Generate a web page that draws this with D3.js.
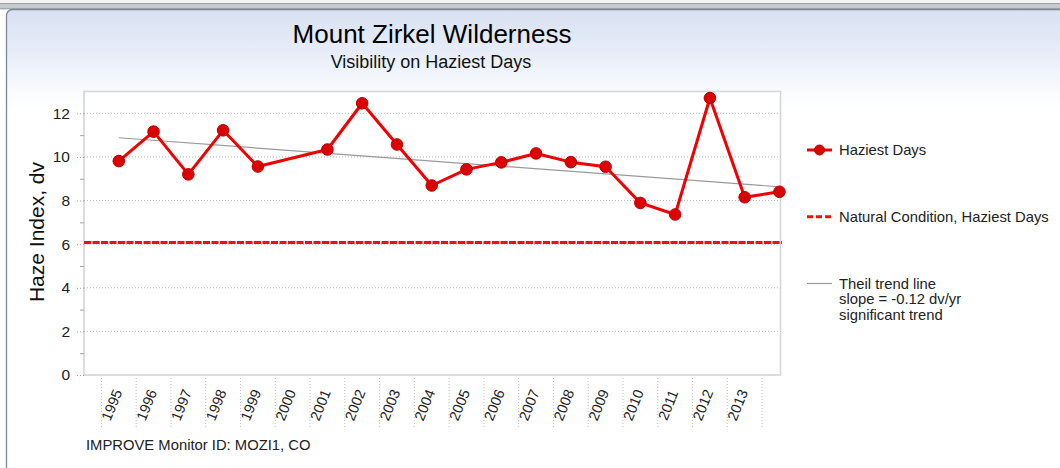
<!DOCTYPE html>
<html>
<head>
<meta charset="utf-8">
<script src="https://cdn.jsdelivr.net/npm/d3@7"></script>
<style>
html,body{margin:0;padding:0;background:#fff;}
svg{display:block;font-family:"Liberation Sans",Arial,sans-serif;}
</style>
</head>
<body>
<svg id="chart" width="1060" height="468"></svg>
<script>
// ---- data ----
const years = [1995,1996,1997,1998,1999,2000,2001,2002,2003,2004,2005,2006,2007,2008,2009,2010,2011,2012,2013,2014];
const haziestDays = [9.81,11.16,9.20,11.22,9.56,null,10.34,12.46,10.57,8.69,9.43,9.75,10.16,9.76,9.55,7.89,7.36,12.70,8.15,8.40];
const naturalCondition = [6.08,6.08];
const naturalYears = [1994,2014.07];
const trendYears = [1995,2014];
const trendValues = [10.88,8.63];
const xTickLabels = ["1995","1996","1997","1998","1999","2000","2001","2002","2003","2004","2005","2006","2007","2008","2009","2010","2011","2012","2013"];
const yMajorTicks = [0,2,4,6,8,10,12];
const yMinorTicks = [1,3,5,7,9,11];
const title = "Mount Zirkel Wilderness";
const subtitle = "Visibility on Haziest Days";
const yTitle = "Haze Index, dv";
const footer = "IMPROVE Monitor ID: MOZI1, CO";
const legendLabels = ["Haziest Days","Natural Condition, Haziest Days",["Theil trend line","slope = -0.12 dv/yr","significant trend"]];

(function(){
const svg = d3.select("#chart");
const defs = svg.append("defs");
const grad = defs.append("linearGradient").attr("id","bg").attr("x1",0).attr("y1",0).attr("x2",0).attr("y2",1);
grad.append("stop").attr("offset","0%").attr("stop-color","#d8e1f2");
grad.append("stop").attr("offset","10%").attr("stop-color","#eaeff9");
grad.append("stop").attr("offset","17%").attr("stop-color","#fbfcfe");
grad.append("stop").attr("offset","21%").attr("stop-color","#ffffff");
grad.append("stop").attr("offset","100%").attr("stop-color","#ffffff");

// window frame
svg.append("rect").attr("x",0).attr("y",0).attr("width",1060).attr("height",468).attr("fill","#ffffff");
svg.append("rect").attr("x",-20).attr("y",-10).attr("width",1100).attr("height",13.5).attr("rx",5)
  .attr("fill","#f4f4f4").attr("stroke","#6d7b80").attr("stroke-width",1.2);
svg.append("rect").attr("x",-20).attr("y",3.5).attr("width",1100).attr("height",5).attr("fill","#c9c9c9");
svg.append("line").attr("x1",0).attr("x2",1060).attr("y1",8.8).attr("y2",8.8).attr("stroke","#8593a3").attr("stroke-width",1);
svg.append("rect").attr("x",6.5).attr("y",9.5).attr("width",1100).attr("height",500).attr("rx",6)
  .attr("fill","url(#bg)").attr("stroke","#7b8794").attr("stroke-width",1.3);

// plot geometry
const pLeft = 84, pRight = 780.5, pTop = 91.5, pBottom = 375;
const x = d3.scaleLinear().domain([1994, 2014.03]).range([pLeft, pRight]);
const y = d3.scaleLinear().domain([0, 13]).range([pBottom, pTop]);

svg.append("rect").attr("x",pLeft).attr("y",pTop).attr("width",pRight-pLeft).attr("height",pBottom-pTop)
  .attr("fill","#ffffff").attr("stroke","#d3d6da").attr("stroke-width",1.6);

// gridlines
svg.append("g").selectAll("line").data(yMajorTicks.filter(d=>d>0)).join("line")
  .attr("x1",pLeft).attr("x2",pRight).attr("y1",d=>y(d)).attr("y2",d=>y(d))
  .attr("stroke","#b8b8b8").attr("stroke-width",1).attr("stroke-dasharray","1,2");

// y axis
const yAxis = d3.axisLeft(y).tickValues(yMajorTicks).tickSize(9).tickPadding(5).tickFormat(d3.format("d"));
const gy = svg.append("g").attr("transform",`translate(${pLeft},0)`).call(yAxis);
gy.select(".domain").remove();
gy.selectAll(".tick line").attr("stroke","#a0a0a0").attr("stroke-dasharray","1,2");
gy.selectAll(".tick text").attr("font-size",15.5).attr("fill","#222").attr("font-family","Liberation Sans, Arial, sans-serif");
const yMinor = d3.axisLeft(y).tickValues(yMinorTicks).tickSize(4).tickFormat("");
const gym = svg.append("g").attr("transform",`translate(${pLeft},0)`).call(yMinor);
gym.select(".domain").remove();
gym.selectAll(".tick line").attr("stroke","#a0a0a0");

// x axis ticks (dotted, at band boundaries)
const tickPos = xTickLabels.map(d=>+d - 0.5).concat([2013.5]);
svg.append("g").selectAll("line").data(tickPos).join("line")
  .attr("x1",d=>x(d)).attr("x2",d=>x(d)).attr("y1",378).attr("y2",428)
  .attr("stroke","#bdbdbd").attr("stroke-width",1).attr("stroke-dasharray","1,2");
svg.append("g").selectAll("text").data(xTickLabels).join("text")
  .attr("transform",d=>`translate(${x(+d)-7},405) rotate(-68)`)
  .attr("text-anchor","middle").attr("dominant-baseline","central")
  .attr("font-size",14.5).attr("fill","#222").text(d=>d);

// trend line
svg.append("line")
  .attr("x1",x(trendYears[0])).attr("y1",y(trendValues[0]))
  .attr("x2",x(trendYears[1])).attr("y2",y(trendValues[1]))
  .attr("stroke","#9a9a9a").attr("stroke-width",1.2);

// natural condition line
svg.append("path")
  .attr("d",d3.line().x(d=>x(d[0])).y(d=>y(d[1]))(naturalYears.map((yr,i)=>[yr,naturalCondition[i]])))
  .attr("stroke","#ff0a0a").attr("stroke-width",3).attr("fill","none").attr("stroke-dasharray","7,1.5");

// haziest days line
const pts = years.map((yr,i)=>({yr, v:haziestDays[i]})).filter(d=>d.v!=null);
svg.append("path")
  .attr("d",d3.line().x(d=>x(d.yr)).y(d=>y(d.v))(pts))
  .attr("stroke","#f00000").attr("stroke-width",3).attr("fill","none").attr("stroke-linejoin","round");
svg.append("g").selectAll("circle").data(pts).join("circle")
  .attr("cx",d=>x(d.yr)).attr("cy",d=>y(d.v)).attr("r",5.8)
  .attr("fill","#dd0000").attr("stroke","#b80000").attr("stroke-width",1);

// titles
svg.append("text").attr("x",432).attr("y",43).attr("text-anchor","middle").attr("font-size",26).attr("fill","#000").text(title);
svg.append("text").attr("x",431).attr("y",68).attr("text-anchor","middle").attr("font-size",18).attr("fill","#111").text(subtitle);
svg.append("text").attr("transform","translate(44,232) rotate(-90)").attr("text-anchor","middle")
  .attr("font-size",21).attr("fill","#111").text(yTitle);
svg.append("text").attr("x",86).attr("y",450).attr("font-size",14.8).attr("fill","#222").text(footer);

// legend
const lg = svg.append("g");
lg.append("line").attr("x1",807).attr("x2",832).attr("y1",150).attr("y2",150).attr("stroke","#f00000").attr("stroke-width",3);
lg.append("circle").attr("cx",819.5).attr("cy",150).attr("r",5).attr("fill","#dd0000").attr("stroke","#b80000");
lg.append("text").attr("x",839).attr("y",155).attr("font-size",14.8).attr("fill","#222").text(legendLabels[0]);
lg.append("line").attr("x1",807).attr("x2",832).attr("y1",216.7).attr("y2",216.7).attr("stroke","#ff0a0a").attr("stroke-width",3).attr("stroke-dasharray","6,3");
lg.append("text").attr("x",839).attr("y",221.7).attr("font-size",14.8).attr("fill","#222").text(legendLabels[1]);
lg.append("line").attr("x1",807).attr("x2",832).attr("y1",283.5).attr("y2",283.5).attr("stroke","#9a9a9a").attr("stroke-width",1.2);
lg.append("g").selectAll("text").data(legendLabels[2]).join("text")
  .attr("x",839).attr("y",(d,i)=>288.5+i*15.7).attr("font-size",14.8).attr("fill","#222").text(d=>d);
})();
</script>
</body>
</html>
